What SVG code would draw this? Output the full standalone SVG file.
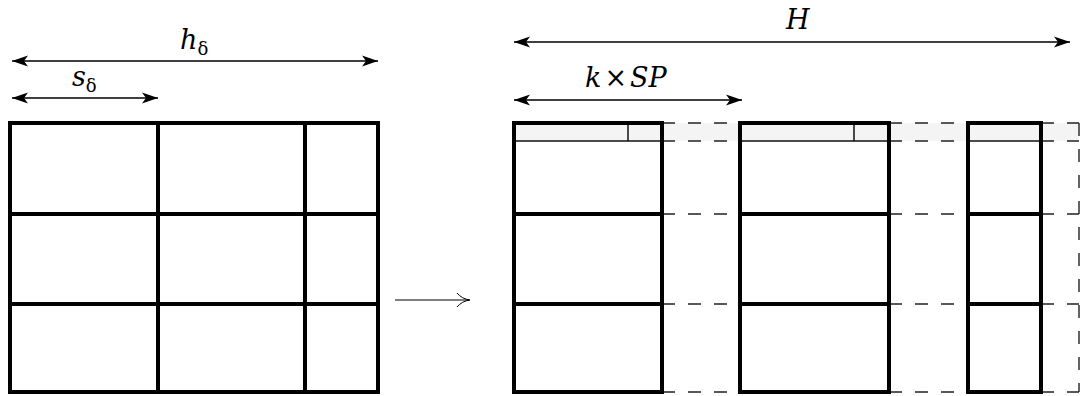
<svg xmlns="http://www.w3.org/2000/svg" width="1081" height="396" viewBox="0 0 1081 396">
  <style>
    .thick { stroke: #000; stroke-width: 4; fill: none; }
    .thin { stroke: #111; stroke-width: 1.5; fill: none; }
    .dash { stroke: #222; stroke-width: 1.4; fill: none; stroke-dasharray: 13 13; }
    .dim { stroke: #000; stroke-width: 1.3; fill: none; }
    .math { font-style: italic; font-size: 27px; fill: #000; }
    .up { font-style: normal; }
  </style>
  <defs>
    <marker id="head" markerUnits="userSpaceOnUse" markerWidth="18" markerHeight="12" refX="16" refY="6" orient="auto-start-reverse" viewBox="0 0 18 12">
      <path d="M0,0.5 L16,6 L0,11.5 L4,6 Z" fill="#000"/>
    </marker>
  </defs>
  <rect width="1081" height="396" fill="#fff"/>

  <g id="dimensions" font-family="'DejaVu Serif', 'Liberation Serif', serif">
    <line class="dim" x1="12" y1="61" x2="378" y2="61" marker-start="url(#head)" marker-end="url(#head)"/>
    <text class="math" x="180" y="49">h<tspan class="up" font-size="18" dy="6">δ</tspan></text>
    <line class="dim" x1="12" y1="98" x2="158" y2="98" marker-start="url(#head)" marker-end="url(#head)"/>
    <text class="math" x="72" y="86">s<tspan class="up" font-size="18" dy="6">δ</tspan></text>
    <line class="dim" x1="514" y1="42" x2="1070" y2="42" marker-start="url(#head)" marker-end="url(#head)"/>
    <text class="math" x="786" y="29">H</text>
    <line class="dim" x1="514" y1="100" x2="742" y2="100" marker-start="url(#head)" marker-end="url(#head)"/>
    <text class="math" x="585" y="87">k<tspan class="up" dx="3">×</tspan><tspan dx="3">SP</tspan></text>
  </g>

  <g id="left-grid">
    <rect class="thick" x="10" y="123" width="368" height="269"/>
    <line class="thick" x1="158" y1="123" x2="158" y2="392"/>
    <line class="thick" x1="305" y1="123" x2="305" y2="392"/>
    <line class="thick" x1="10" y1="214" x2="378" y2="214"/>
    <line class="thick" x1="10" y1="304" x2="378" y2="304"/>
  </g>

  <g id="transform-arrow">
    <line x1="395" y1="300" x2="469" y2="300" stroke="#000" stroke-width="1"/>
    <path d="M457,293 Q462,299 470,300 Q462,301 457,307" fill="none" stroke="#000" stroke-width="1"/>
  </g>

  <g id="right-band">
    <rect x="514" y="123" width="565" height="18" fill="#f4f4f4"/>
  </g>

  <g id="connectors">
    <path class="dash" d="M662,123 H740 M889,123 H968 M1041,123 H1079"/>
    <path class="dash" d="M662,141 H740 M889,141 H968 M1041,141 H1079"/>
    <path class="dash" d="M662,214 H740 M889,214 H968 M1041,214 H1079"/>
    <path class="dash" d="M662,304 H740 M889,304 H968 M1041,304 H1079"/>
    <path class="dash" d="M662,392 H740 M889,392 H968 M1041,392 H1079"/>
    <path class="dash" d="M1079,123 V392"/>
  </g>

  <g id="block-1">
    <line class="thin" x1="514" y1="141" x2="662" y2="141"/>
    <line class="thin" x1="628" y1="123" x2="628" y2="141"/>
    <rect class="thick" x="514" y="123" width="148" height="269"/>
    <line class="thick" x1="514" y1="214" x2="662" y2="214"/>
    <line class="thick" x1="514" y1="304" x2="662" y2="304"/>
  </g>

  <g id="block-2">
    <line class="thin" x1="740" y1="141" x2="889" y2="141"/>
    <line class="thin" x1="854" y1="123" x2="854" y2="141"/>
    <rect class="thick" x="740" y="123" width="149" height="269"/>
    <line class="thick" x1="740" y1="214" x2="889" y2="214"/>
    <line class="thick" x1="740" y1="304" x2="889" y2="304"/>
  </g>

  <g id="block-3">
    <line class="thin" x1="968" y1="141" x2="1041" y2="141"/>
    <rect class="thick" x="968" y="123" width="73" height="269"/>
    <line class="thick" x1="968" y1="214" x2="1041" y2="214"/>
    <line class="thick" x1="968" y1="304" x2="1041" y2="304"/>
  </g>
</svg>
